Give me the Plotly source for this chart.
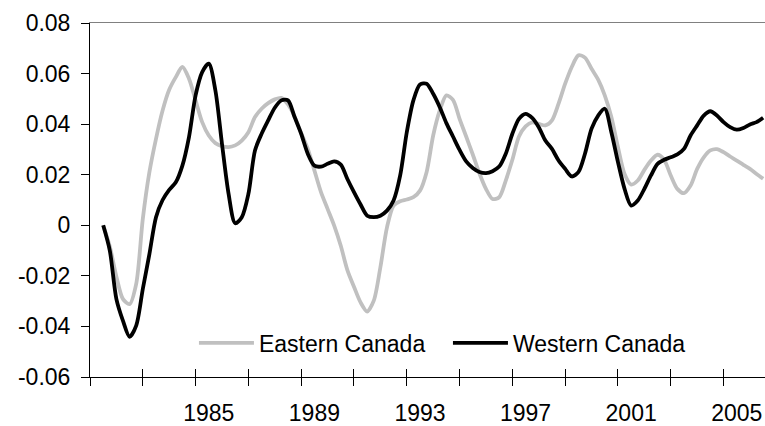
import plotly.graph_objects as go

# quarterly observations, 1981Q1 .. 2006Q1
start_year = 1981.0
eastern = [0.0000, -0.0084, -0.0203, -0.0292, -0.0312, -0.0232, 0.0025, 0.0210, 0.0342, 0.0454,
           0.0536, 0.0586, 0.0626, 0.0580, 0.0494, 0.0408, 0.0355, 0.0325, 0.0313, 0.0309,
           0.0316, 0.0335, 0.0368, 0.0428, 0.0461, 0.0483, 0.0498, 0.0504, 0.0478, 0.0430,
           0.0364, 0.0302, 0.0217, 0.0131, 0.0065, -0.0001, -0.0081, -0.0177, -0.0243, -0.0305,
           -0.0341, -0.0298, -0.0166, -0.0008, 0.0078, 0.0095, 0.0102, 0.0111, 0.0137, 0.0210,
           0.0355, 0.0454, 0.0514, 0.0496, 0.0421, 0.0351, 0.0280, 0.0206, 0.0144, 0.0104,
           0.0111, 0.0177, 0.0259, 0.0351, 0.0391, 0.0407, 0.0401, 0.0395, 0.0415, 0.0481,
           0.0560, 0.0626, 0.0672, 0.0663, 0.0619, 0.0576, 0.0514, 0.0428, 0.0309, 0.0203,
           0.0161, 0.0177, 0.0219, 0.0256, 0.0279, 0.0259, 0.0197, 0.0144, 0.0127, 0.0157,
           0.0223, 0.0269, 0.0296, 0.0301, 0.0289, 0.0272, 0.0256, 0.0239, 0.0223, 0.0203,
           0.0184]
western = [0.0000, -0.0100, -0.0292, -0.0378, -0.0441, -0.0397, -0.0252, -0.0114, 0.0032, 0.0100,
           0.0140, 0.0170, 0.0236, 0.0349, 0.0514, 0.0606, 0.0639, 0.0533, 0.0322, 0.0124,
           0.0008, 0.0032, 0.0124, 0.0296, 0.0362, 0.0415, 0.0465, 0.0494, 0.0494, 0.0428,
           0.0362, 0.0283, 0.0236, 0.0232, 0.0243, 0.0253, 0.0240, 0.0183, 0.0131, 0.0082,
           0.0038, 0.0032, 0.0038, 0.0058, 0.0098, 0.0197, 0.0368, 0.0494, 0.0557, 0.0560,
           0.0520, 0.0467, 0.0404, 0.0351, 0.0298, 0.0253, 0.0227, 0.0211, 0.0206, 0.0214,
           0.0232, 0.0283, 0.0362, 0.0421, 0.0441, 0.0425, 0.0388, 0.0335, 0.0302, 0.0256,
           0.0223, 0.0193, 0.0210, 0.0283, 0.0382, 0.0434, 0.0461, 0.0368, 0.0250, 0.0144,
           0.0078, 0.0098, 0.0144, 0.0197, 0.0243, 0.0259, 0.0269, 0.0280, 0.0302, 0.0355,
           0.0395, 0.0434, 0.0451, 0.0434, 0.0408, 0.0388, 0.0378, 0.0385, 0.0399, 0.0408,
           0.0425]
series_names = ["Eastern Canada", "Western Canada"]
x_label_years = [1985, 1989, 1993, 1997, 2001, 2005]
x_tick_marks = [1980.5 + 2 * k for k in range(14)]
y_tick_values = [-0.06, -0.04, -0.02, 0, 0.02, 0.04, 0.06, 0.08]
y_tick_labels = ["-0.06", "-0.04", "-0.02", "0", "0.02", "0.04", "0.06", "0.08"]

quarters = [start_year + 0.25 * i for i in range(len(eastern))]
x_range = [1980.5, 2006.07]
FONT = "Liberation Sans, Arial, sans-serif"

fig = go.Figure()
fig.add_trace(go.Scatter(x=quarters, y=eastern, name=series_names[0], mode="lines",
                         line=dict(color="#c0c0c0", width=3.8, shape="spline", smoothing=0.8)))
fig.add_trace(go.Scatter(x=quarters, y=western, name=series_names[1], mode="lines",
                         line=dict(color="#000000", width=3.8, shape="spline", smoothing=0.8)))
# empty helper traces so the overlay axes (inner tick halves, top frame line) are drawn
fig.add_trace(go.Scatter(x=[], y=[], xaxis="x2", showlegend=False, hoverinfo="skip"))
fig.add_trace(go.Scatter(x=[], y=[], xaxis="x3", showlegend=False, hoverinfo="skip"))

fig.update_layout(
    width=765, height=426,
    margin=dict(l=90, r=0, t=23, b=49, autoexpand=False),
    paper_bgcolor="white", plot_bgcolor="white",
    font=dict(family=FONT, size=23, color="#000000"),
    showlegend=True,
    legend=dict(orientation="h", x=0.154, xanchor="left", y=0.096, yanchor="middle",
                bgcolor="rgba(0,0,0,0)", font=dict(size=23), itemwidth=55,
                entrywidth=184, entrywidthmode="pixels", traceorder="normal"),
    xaxis=dict(range=x_range, showgrid=False, zeroline=False, automargin=False,
               showline=True, linecolor="#000000", linewidth=1,
               tickvals=x_label_years, ticktext=[str(v) for v in x_label_years],
               ticks="outside", ticklen=0, ticklabelstandoff=15,
               minor=dict(tickvals=x_tick_marks, ticks="outside", ticklen=8,
                          tickcolor="#000000", tickwidth=1, showgrid=False)),
    xaxis2=dict(range=x_range, overlaying="x", anchor="y", side="bottom", showgrid=False,
                zeroline=False, automargin=False, showline=False, tickvals=x_tick_marks,
                showticklabels=False, ticks="inside", ticklen=8, tickcolor="#000000",
                tickwidth=1),
    xaxis3=dict(range=x_range, overlaying="x", anchor="y", side="top", showgrid=False,
                zeroline=False, automargin=False, showline=True, linecolor="#808080",
                linewidth=1, ticks="", showticklabels=False),
    yaxis=dict(range=[-0.06, 0.08], showgrid=False, zeroline=False, automargin=False,
               showline=True, linecolor="#000000", linewidth=1,
               tickvals=y_tick_values, ticktext=y_tick_labels,
               ticks="outside", ticklen=8, tickcolor="#000000", tickwidth=1,
               ticklabelstandoff=6),
)
fig.write_html("out.html", config={"displayModeBar": False},
               post_script="document.body.style.margin='0';document.body.style.padding='0';")
